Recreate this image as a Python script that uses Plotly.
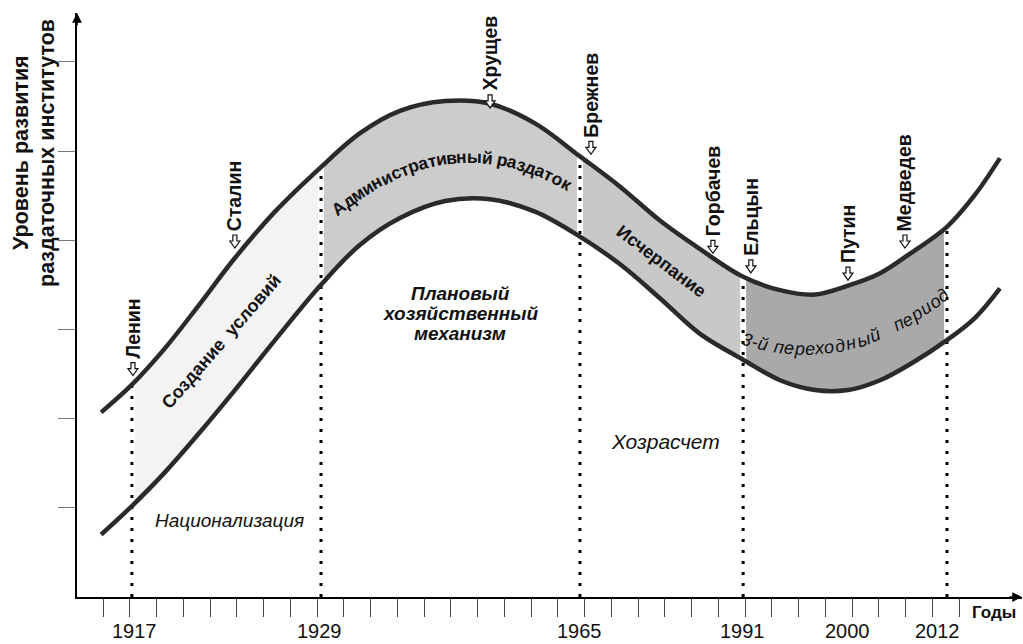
import numpy as np
import plotly.graph_objects as go

# ---------------- data (schematic units) ----------------
# x: position along the time axis, in tick steps; y: level of development
x_pos = [-0.07, 1.08, 2.32, 3.63, 4.93, 6.43, 8.15, 9.61, 11.10, 12.79, 14.47, 16.15,
         17.83, 19.33, 20.82, 22.32, 23.93, 25.31, 26.62, 27.85, 29.05, 30.17, 31.55,
         32.60, 33.53]
upper = [2.07, 2.38, 2.79, 3.29, 3.80, 4.32, 4.82, 5.20, 5.45, 5.56, 5.53, 5.31,
         4.94, 4.60, 4.22, 3.90, 3.59, 3.44, 3.39, 3.49, 3.63, 3.85, 4.15, 4.51, 4.92]
lower = [0.70, 1.02, 1.40, 1.85, 2.32, 2.88, 3.50, 3.95, 4.25, 4.44, 4.46, 4.32,
         4.04, 3.73, 3.35, 2.95, 2.66, 2.43, 2.32, 2.32, 2.43, 2.61, 2.88, 3.13, 3.46]

boundary_years = [1917, 1929, 1965, 1991, 2012]
boundary_idx = [1, 6, 12, 16, 22]
period_colors = ["#f3f3f3", "#cccccc", "#c8c8c8", "#a9a9a9"]

year_labels = ["1917", "1929", "1965", "1991", "2000", "2012"]
year_label_pos = [1.16, 8.11, 17.83, 23.89, 27.85, 31.21]

leaders = ["Ленин", "Сталин", "Хрущев", "Брежнев", "Горбачев", "Ельцын", "Путин", "Медведев"]
leader_x = [1.12, 4.93, 14.47, 18.24, 22.80, 24.22, 27.85, 29.98]
leader_arrow_y = [2.55, 3.98, 5.55, 5.03, 3.92, 3.70, 3.62, 3.98]

x_ticks = list(range(0, 33))
y_ticks = [1, 2, 3, 4, 5, 6]

# ---------------- helpers for placing text (pixel estimate -> axis / paper units) ---
PX0, PXU, PY0, PYU = 103.0, 26.75, 597.0, 89.2
L, R, T, B = 77, 1022, 13, 597


def ux(px):
    return (px - PX0) / PXU


def vy(py):
    return (PY0 - py) / PYU


def paper_x(px):
    return (px - L) / (R - L)


def paper_y(py):
    return (B - py) / (B - T)


FONT = "Liberation Sans, Arial, sans-serif"

fig = go.Figure()

# period fills between the two curves
for k in range(len(boundary_idx) - 1):
    a, b = boundary_idx[k], boundary_idx[k + 1]
    fig.add_trace(go.Scatter(x=x_pos[a:b + 1], y=upper[a:b + 1], mode="lines",
                             line=dict(width=0, shape="spline", color="rgba(0,0,0,0)"),
                             hoverinfo="skip"))
    fig.add_trace(go.Scatter(x=x_pos[a:b + 1], y=lower[a:b + 1], mode="lines",
                             line=dict(width=0, shape="spline", color="rgba(0,0,0,0)"),
                             fill="tonexty", fillcolor=period_colors[k], hoverinfo="skip"))

# white gaps and dotted year lines
for i in boundary_idx:
    fig.add_trace(go.Scatter(x=[x_pos[i], x_pos[i]], y=[lower[i], upper[i]], mode="lines",
                             line=dict(color="white", width=6), hoverinfo="skip"))
for i in boundary_idx:
    fig.add_trace(go.Scatter(x=[x_pos[i], x_pos[i]], y=[0, upper[i]], mode="lines",
                             line=dict(color="black", width=3, dash="3px,8px"),
                             hoverinfo="skip"))

# the two boundary curves
for ys in (upper, lower):
    fig.add_trace(go.Scatter(x=x_pos, y=ys, mode="lines",
                             line=dict(color="#2a2a2a", width=4.5, shape="spline"),
                             hoverinfo="skip"))

ann = []
shapes = []


def text(px, py, t, size, angle=0, bold=False, italic=False, family=FONT, color="#111"):
    if bold:
        t = "<b>" + t + "</b>"
    if italic:
        t = "<i>" + t + "</i>"
    ann.append(dict(x=paper_x(px), y=paper_y(py), xref="paper", yref="paper", text=t,
                    showarrow=False, textangle=angle, xanchor="center", yanchor="middle",
                    font=dict(family=family, size=size, color=color)))


# char widths (em) for curved text
W = {" ": 0.28, "А": 0.72, "д": 0.61, "м": 0.72, "и": 0.61, "н": 0.61, "с": 0.56,
     "т": 0.50, "р": 0.61, "а": 0.56, "в": 0.56, "ы": 0.83, "й": 0.61, "з": 0.50,
     "о": 0.61, "к": 0.56, "3": 0.56, "-": 0.33, "п": 0.56, "е": 0.56, "х": 0.50}


def curved(t, size, fx, x0, x1, bold=False, italic=False, scale=1.0):
    xs = np.linspace(x0 - 150, x1 + 150, 6000)
    ys = fx(xs)
    s = np.concatenate([[0], np.cumsum(np.hypot(np.diff(xs), np.diff(ys)))])
    s0, s1 = np.interp(x0, xs, s), np.interp(x1, xs, s)
    widths = [W.get(c, 0.58) * size * scale for c in t]
    cur = (s0 + s1) / 2 - sum(widths) / 2
    for c, w in zip(t, widths):
        sc = cur + w / 2
        cur += w
        if c == " ":
            continue
        px = float(np.interp(sc, s, xs))
        py = float(np.interp(sc, s, ys))
        slope = (fx(px + 0.5) - fx(px - 0.5))
        ang = float(np.degrees(np.arctan(slope)))
        text(px, py, c, size, angle=ang, bold=bold, italic=italic)


curved("Административный раздаток", 17.5,
       lambda x: 157 + 0.00293 * (np.asarray(x) - 470) ** 2, 338, 566, bold=True)
curved("3-й переходный   период", 18,
       lambda x: 349 - 0.0028 * (np.asarray(x) - 805) ** 2, 752, 940, italic=True)

text(221, 342, "Создание\u00a0\u00a0условий", 18, angle=-49, bold=True)
text(661, 261, "Исчерпание", 18, angle=37, bold=True)
text(460, 293, "Плановый", 19, bold=True, italic=True)
text(460, 313, "хозяйственный", 19, bold=True, italic=True)
text(460, 333, "механизм", 19, bold=True, italic=True)
text(665, 441, "Хозрасчет", 21, italic=True)
text(229, 520, "Национализация", 19, italic=True)

# leaders: hollow block arrow + vertical name
ARROW = "M-2,7 L2,7 L2,1 L5,1 L0,-6 L-5,1 L-2,1 Z"
for name, lx, ay in zip(leaders, leader_x, leader_arrow_y):
    shapes.append(dict(type="path", xref="x", yref="y", xsizemode="pixel",
                       ysizemode="pixel", xanchor=lx, yanchor=ay, path=ARROW,
                       fillcolor="white", line=dict(color="#111", width=1.2)))
    ann.append(dict(x=lx, y=ay + vy(588), xref="x", yref="y", text="<b>" + name + "</b>",
                    showarrow=False, textangle=-90, xanchor="center", yanchor="bottom",
                    font=dict(family=FONT, size=19.5, color="#111")))

# year labels
for lab, xp in zip(year_labels, year_label_pos):
    ann.append(dict(x=paper_x(PX0 + xp * PXU), y=paper_y(631), xref="paper", yref="paper",
                    text=lab, showarrow=False, xanchor="center", yanchor="middle",
                    font=dict(family=FONT, size=20, color="#111")))

text(994, 612, "Годы", 17, bold=True)

# y axis title (two rotated lines)
text(21, 153, "Уровень развития", 21.5, angle=-90, bold=True)
text(47, 153, "раздаточных институтов", 21.5, angle=-90, bold=True)

# axis arrowheads
ann.append(dict(x=1, y=0, xref="paper", yref="paper", ax=-14, ay=0, text="",
                showarrow=True, arrowhead=2, arrowsize=1.3, arrowwidth=1.5, arrowcolor="black"))
ann.append(dict(x=0, y=1, xref="paper", yref="paper", ax=0, ay=14, text="",
                showarrow=True, arrowhead=2, arrowsize=1.3, arrowwidth=1.5, arrowcolor="black"))

fig.update_layout(
    width=1023, height=644,
    margin=dict(l=L, r=1023 - R, t=T, b=644 - B, autoexpand=False),
    paper_bgcolor="white", plot_bgcolor="white",
    showlegend=False, hovermode=False,
    annotations=ann, shapes=shapes,
    xaxis=dict(range=[ux(L), ux(R)], showgrid=False, zeroline=False,
               showline=True, linecolor="black", linewidth=1.5,
               tickmode="array", tickvals=x_ticks, ticktext=[""] * len(x_ticks),
               ticks="outside", ticklen=18, tickwidth=1, tickcolor="#444",
               automargin=False, fixedrange=True),
    yaxis=dict(range=[0, vy(T)], showgrid=False, zeroline=False,
               showline=True, linecolor="black", linewidth=1.5,
               tickmode="array", tickvals=y_ticks, ticktext=[""] * len(y_ticks),
               ticks="outside", ticklen=17, tickwidth=1, tickcolor="#777",
               automargin=False, fixedrange=True),
)

fig.write_html("out.html", config={"displayModeBar": False},
               post_script="document.body.style.margin='0';document.body.style.overflow='hidden';")
